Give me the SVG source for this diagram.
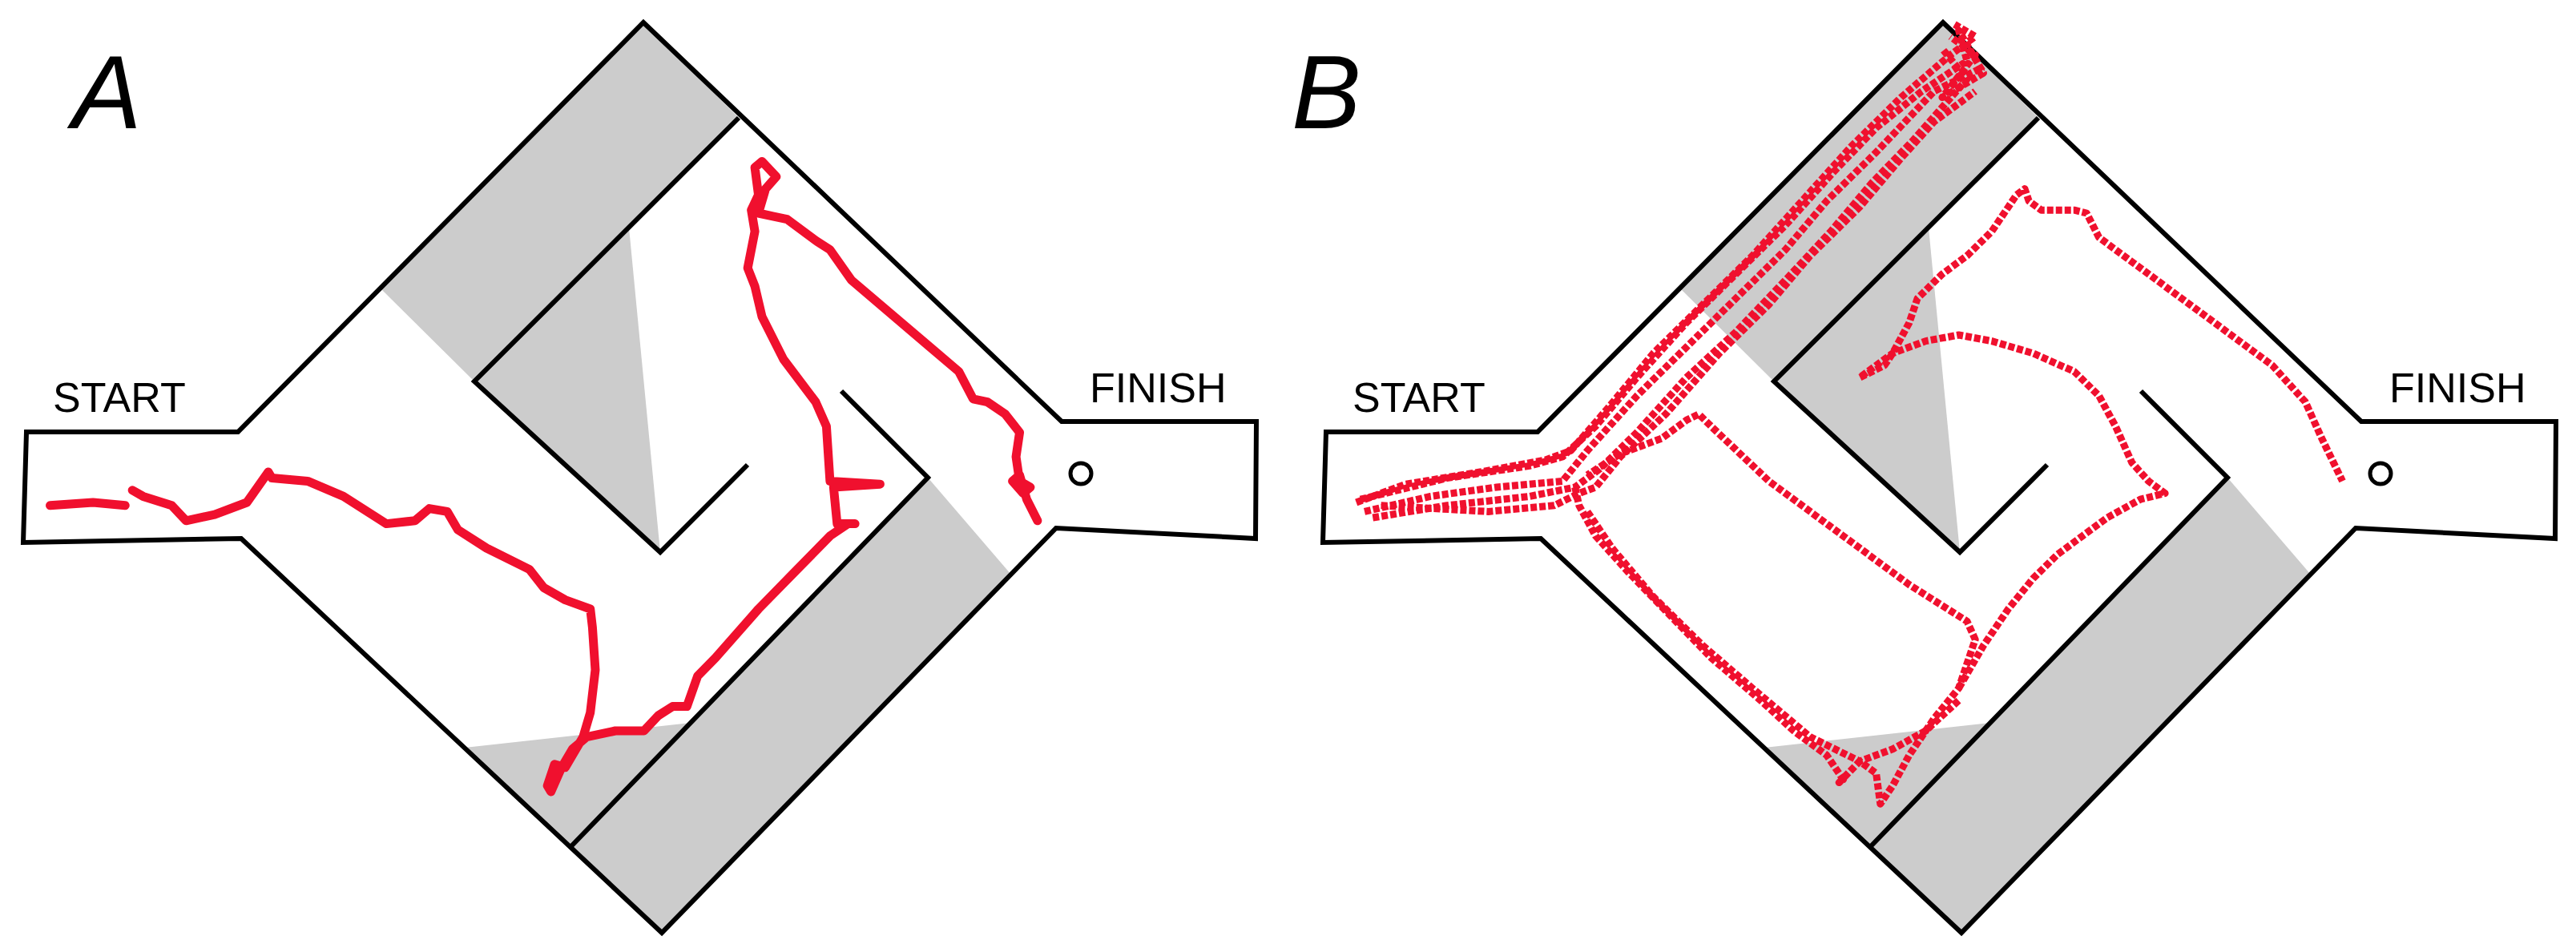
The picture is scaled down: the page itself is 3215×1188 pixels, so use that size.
<svg xmlns="http://www.w3.org/2000/svg" width="3215" height="1188" viewBox="0 0 3215 1188">
<style>
.w{fill:none;stroke:#000;stroke-width:6;stroke-linejoin:miter}
.g{fill:#cccccc;stroke:none}
.t{font-family:"Liberation Sans",Arial,sans-serif;font-size:52px;fill:#000}
.L{font-family:"Liberation Sans",Arial,sans-serif;font-size:130px;font-style:italic;fill:#000}
.ra{fill:none;stroke:#f0102e;stroke-width:11;stroke-linejoin:round;stroke-linecap:round}
.rb{fill:none;stroke:#f0102e;stroke-width:9;stroke-dasharray:8 3;stroke-linejoin:round}
</style>
<defs>
<g id="maze">
<polygon class="g" points="475,360 803,28 922,147 592,476"/>
<polygon class="g" points="785,284 592,476 824,689"/>
<polygon class="g" points="1158,596 1262,717 826,1164 711,1058"/>
<polygon class="g" points="580,933 862,902 711,1058"/>
<polygon class="w" points="33,539 297,539 803,28 1325,526 1568,526 1567,672 1318,659 826,1164 301,672 29,677"/>
<polyline class="w" points="922,147 592,476 824,689 933,580"/>
<polyline class="w" points="1050,488 1158,596 711,1058"/>
<circle cx="1349" cy="591" r="13" fill="none" stroke="#000" stroke-width="5"/>
</g>
</defs>
<g id="panelA">
<use href="#maze"/>
<text class="L" x="90" y="160">A</text>
<text class="t" x="66" y="514">START</text>
<text class="t" x="1360" y="502">FINISH</text>
</g>
<g id="panelB" transform="translate(1622,0)">
<use href="#maze"/>
<text class="L" x="-10" y="160">B</text>
<text class="t" x="66" y="514">START</text>
<text class="t" x="1360" y="502">FINISH</text>
</g>
<g id="connectors">
<g transform="scale(0.893,0.76)">
<polyline class="ra" vector-effect="non-scaling-stroke" points="70,830 130,825 175,830"/>
<polyline class="ra" vector-effect="non-scaling-stroke" points="185,805 200,815 240,830 260,855 300,845 345,825 360,800 375,775 380,785 430,790 480,815 540,860 580,855 600,835 625,840 640,870 680,900 740,935 760,965 790,985 825,1000 828,1030 832,1100 825,1170 815,1210 800,1240 790,1260 775,1255 765,1290 770,1300 785,1260 800,1230 820,1210 860,1200 900,1200 920,1175 940,1160 960,1160 975,1110 1000,1080 1060,1000 1110,940 1160,880 1185,860 1195,860 1170,860 1165,800 1230,795 1160,790 1155,700 1140,660 1095,590 1065,520 1055,470 1045,440 1055,380 1050,345 1060,320 1055,275 1065,265 1085,290 1070,310 1060,350 1080,355 1100,360 1140,395 1160,410 1190,460 1300,570 1340,610 1360,655 1380,660 1405,680 1425,710 1420,750 1425,790 1440,800 1430,810 1415,790 1425,780 1435,820 1450,855"/>
</g>
<g transform="translate(1600,0) scale(1.03,0.76)">
<polyline class="rb" vector-effect="non-scaling-stroke" points="90,825 150,795 240,775 320,755 350,740 395,670 450,580 510,500 570,420 630,330 690,240 750,160 810,90 840,60 815,40"/>
<polyline class="rb" vector-effect="non-scaling-stroke" points="100,840 180,815 260,800 340,790 370,740 430,650 490,570 550,490 610,410 660,330 720,250 790,150 850,110"/>
<polyline class="rb" vector-effect="non-scaling-stroke" points="110,850 200,830 300,815 355,800 385,770 430,710 490,620 550,545 610,460 665,380 715,300 765,230 830,130 800,80"/>
<polyline class="rb" vector-effect="non-scaling-stroke" points="120,830 250,840 330,830 360,810 380,800 410,750 465,680 530,580 590,500 640,420 700,340 750,260 790,200 840,150"/>
<polyline class="rb" vector-effect="non-scaling-stroke" points="95,820 200,785 300,765 340,750 380,700 430,620 490,530 550,450 610,370 670,280 720,210 775,150 830,100 820,50 850,120 800,160 840,90 810,60"/>
<polyline class="rb" vector-effect="non-scaling-stroke" points="355,800 360,830 380,880 420,940 470,1010 520,1080 580,1150 620,1200 660,1240 680,1280 675,1285 700,1250 720,1270 725,1320 740,1290 760,1240 790,1180 820,1130 840,1050 830,1020 760,960 680,880 590,790 520,700 505,680 490,690 460,720 410,745 370,780"/>
<polyline class="rb" vector-effect="non-scaling-stroke" points="370,840 400,900 450,980 510,1060 570,1130 640,1210 700,1250 740,1230 780,1200 820,1150"/>
<polyline class="rb" vector-effect="non-scaling-stroke" points="820,1130 850,1060 880,1000 910,950 940,910 970,880 1000,850 1040,820 1070,810 1050,790 1030,760 1010,700 990,650 960,610 910,580 860,560 820,550 780,560 740,580 720,600 700,620 730,600 740,580 760,530 770,490 800,450 830,420 860,380 880,340 890,320 900,310 905,330 920,345 960,345 975,350 990,390 1030,430 1090,490 1140,540 1200,600 1240,660 1260,720 1285,790"/>
</g>
</g>
</svg>
